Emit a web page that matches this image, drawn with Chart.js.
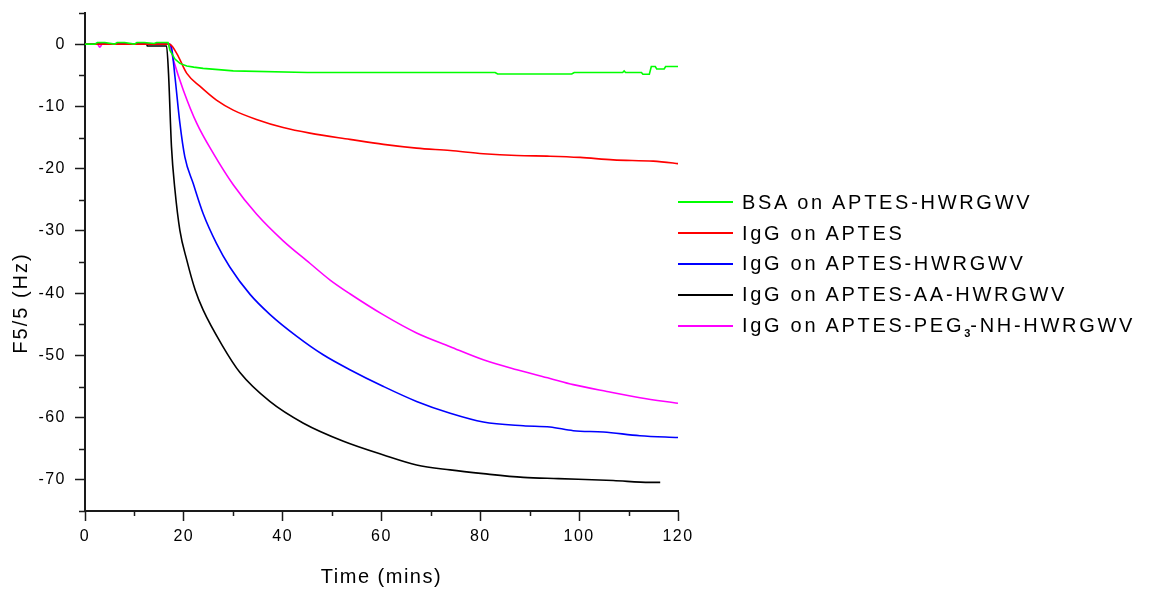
<!DOCTYPE html>
<html>
<head>
<meta charset="utf-8">
<script src="https://cdn.jsdelivr.net/npm/chart.js@4/dist/chart.umd.min.js"></script>
<style>
  html, body { margin: 0; padding: 0; background: #fff; }
  #wrap { position: relative; width: 1152px; height: 591px; }
  #legend { position: absolute; left: 678px; top: 187px; font: 20px "Liberation Sans", Arial, sans-serif; letter-spacing: 2.7px; color: #000; }
  .row { display: flex; align-items: center; height: 30.8px; white-space: nowrap; }
  .sw { display: inline-block; width: 55px; height: 2px; margin-right: 9px; }
  sub { font-size: 11px; font-weight: bold; letter-spacing: 0; vertical-align: -5px; line-height: 0; }
</style>
</head>
<body>
<div id="wrap">
  <canvas id="c" width="1152" height="591"></canvas>
  <div id="legend"></div>
</div>
<script>
// ---- data (time in mins, frequency shift F5/5 in Hz) ----
const seriesNames = [
  "BSA on APTES-HWRGWV",
  "IgG on APTES",
  "IgG on APTES-HWRGWV",
  "IgG on APTES-AA-HWRGWV",
  "IgG on APTES-PEG<sub>3</sub>-NH-HWRGWV"
];
const seriesColors = ["#00ff00", "#ff0000", "#0000ff", "#000000", "#ff00ff"];

const bsaTime = [0, 2, 2.5, 4, 6, 6.5, 8, 10, 10.5, 12, 14, 14.5, 16.8, 17.2, 18.2, 19.2, 20.6, 22, 23.9, 27, 30, 45, 83, 83.5, 98.5, 99, 108.8, 109.1, 109.4, 112.6, 112.9, 114.2, 114.6, 115.4, 115.7, 117.2, 117.5, 120];
const bsaShift = [0, 0, 0.25, 0.25, 0, 0.25, 0.25, 0, 0.25, 0.25, 0.1, 0.25, 0.25, -1.0, -2.4, -3.1, -3.5, -3.7, -3.9, -4.1, -4.3, -4.55, -4.55, -4.8, -4.8, -4.55, -4.55, -4.3, -4.55, -4.55, -4.85, -4.85, -3.6, -3.6, -4.0, -4.0, -3.6, -3.6];

const iggAptesTime = [0, 17, 17.6, 18.9, 20.6, 23.3, 26.6, 30, 34.7, 40.1, 45.5, 53.6, 60.4, 67.1, 73.9, 80.6, 87.4, 94.1, 100.2, 106.9, 115, 119, 120];
const iggAptesShift = [0, 0, -0.3, -2.0, -4.7, -6.8, -9.0, -10.6, -12.1, -13.4, -14.3, -15.3, -16.1, -16.7, -17.1, -17.6, -17.9, -18.0, -18.2, -18.6, -18.8, -19.1, -19.2];

const iggHwrTime = [0, 17, 17.5, 18.2, 19.2, 20.2, 21.9, 23.9, 26.6, 29.3, 33.4, 37.4, 42.8, 48.2, 53.6, 60.4, 67.1, 73.9, 80.6, 88.7, 94.1, 98.8, 104.9, 112.3, 120];
const iggHwrShift = [0, 0, -0.5, -5.2, -12.7, -18.1, -22.4, -27.2, -32.0, -35.8, -40.2, -43.4, -46.9, -49.9, -52.3, -55.0, -57.4, -59.3, -60.7, -61.3, -61.5, -62.1, -62.3, -62.9, -63.2];

const iggAaTime = [0, 12.5, 12.6, 16.5, 16.9, 17.5, 18.2, 19.2, 20.6, 22.3, 23.9, 27.7, 31.4, 37.4, 44.2, 52.3, 60.4, 67.1, 73.9, 80.6, 88.7, 95.8, 106.9, 114.3, 116.4];
const iggAaShift = [0, 0, -0.3, -0.3, -4.7, -16.5, -23.4, -29.9, -34.7, -39.5, -42.7, -48.3, -52.8, -57.4, -60.9, -63.8, -66.0, -67.6, -68.4, -69.0, -69.6, -69.8, -70.1, -70.4, -70.4];

const iggPegTime = [0, 2.5, 3, 3.5, 17, 17.9, 19.9, 22.6, 26.0, 30.0, 34.7, 40.1, 45.5, 49.6, 53.6, 60.4, 67.1, 73.9, 80.6, 87.4, 94.1, 98.8, 105.6, 112.3, 120];
const iggPegShift = [0, 0, -0.5, 0, 0, -2.6, -7.4, -12.7, -17.6, -22.6, -27.3, -31.6, -35.2, -37.9, -40.1, -43.5, -46.4, -48.6, -50.7, -52.3, -53.7, -54.7, -55.8, -56.8, -57.7];

const xMajorTicks = [0, 20, 40, 60, 80, 100, 120];
const yMajorTicks = [0, -10, -20, -30, -40, -50, -60, -70];
const xTitle = "Time (mins)";
const yTitle = "F5/5 (Hz)";

// ---- build ----
const times = [bsaTime, iggAptesTime, iggHwrTime, iggAaTime, iggPegTime];
const shifts = [bsaShift, iggAptesShift, iggHwrShift, iggAaShift, iggPegShift];

const datasets = times.map((t, i) => ({
  label: seriesNames[i].replace(/<sub>(.*?)<\/sub>/, "$1"),
  data: t.map((x, k) => ({ x: x, y: shifts[i][k] })),
  borderColor: seriesColors[i],
  backgroundColor: seriesColors[i],
  borderWidth: 1.6,
  pointRadius: 0,
  tension: 0,
  cubicInterpolationMode: i === 0 ? "default" : "monotone",
  fill: false
}));

// legend (HTML text)
const legendEl = document.getElementById("legend");
seriesNames.forEach((n, i) => {
  const r = document.createElement("div");
  r.className = "row";
  r.innerHTML = '<span class="sw" style="background:' + seriesColors[i] + '"></span><span>' + n + '</span>';
  legendEl.appendChild(r);
});

const axisColor = "#1a1a1a";
const extras = {
  id: "extras",
  beforeDraw(chart) { chart.ctx.letterSpacing = "1.5px"; },
  afterDraw(chart) {
    const ctx = chart.ctx;
    const xs = chart.scales.x, ys = chart.scales.y;
    ctx.save();
    ctx.strokeStyle = axisColor;
    ctx.lineWidth = 1.5;
    // minor ticks
    for (let v = xs.min + 10; v < xs.max; v += 20) {
      const px = Math.round(xs.getPixelForValue(v)) + 0.5;
      ctx.beginPath(); ctx.moveTo(px, ys.bottom); ctx.lineTo(px, ys.bottom + 5); ctx.stroke();
    }
    for (let v = ys.max; v >= ys.min; v -= 10) {
      const py = Math.round(ys.getPixelForValue(v)) + 0.5;
      ctx.beginPath(); ctx.moveTo(xs.left, py); ctx.lineTo(xs.left - 6, py); ctx.stroke();
    }
    // y title
    ctx.letterSpacing = "2px";
    ctx.fillStyle = "#000";
    ctx.font = '20px "Liberation Sans", Arial, sans-serif';
    ctx.textAlign = "center";
    ctx.textBaseline = "middle";
    ctx.translate(21, 303);
    ctx.rotate(-Math.PI / 2);
    ctx.fillText(yTitle, 0, 0);
    ctx.restore();
    ctx.letterSpacing = "0px";
  }
};

new Chart(document.getElementById("c"), {
  type: "line",
  data: { datasets: datasets },
  plugins: [extras],
  options: {
    responsive: false,
    animation: false,
    layout: { padding: { top: 13, right: 474, bottom: 0, left: 0 } },
    plugins: { legend: { display: false }, tooltip: { enabled: false } },
    scales: {
      x: {
        type: "linear",
        min: 0, max: 120,
        afterFit(s) { s.height = 80; s.paddingLeft = 0; s.paddingRight = 0; },
        afterBuildTicks(s) { s.ticks = xMajorTicks.map(v => ({ value: v })); },
        ticks: { color: "#000", padding: 6, maxRotation: 0, font: { family: '"Liberation Sans", Arial, sans-serif', size: 16 } },
        grid: { drawOnChartArea: false, drawTicks: true, tickLength: 10, tickColor: axisColor, tickWidth: 1.5 },
        border: { display: true, color: axisColor, width: 2 },
        title: { display: true, text: xTitle, color: "#000", padding: { top: 0, bottom: 2 }, font: { family: '"Liberation Sans", Arial, sans-serif', size: 20 } }
      },
      y: {
        type: "linear",
        min: -75, max: 5,
        afterFit(s) { s.width = 85; s.paddingTop = 0; s.paddingBottom = 0; },
        afterBuildTicks(s) { s.ticks = yMajorTicks.slice().reverse().map(v => ({ value: v })); },
        ticks: { color: "#000", padding: 9, font: { family: '"Liberation Sans", Arial, sans-serif', size: 16 } },
        grid: { drawOnChartArea: false, drawTicks: true, tickLength: 10, tickColor: axisColor, tickWidth: 1.5 },
        border: { display: true, color: axisColor, width: 2 }
      }
    }
  }
});
</script>
</body>
</html>
